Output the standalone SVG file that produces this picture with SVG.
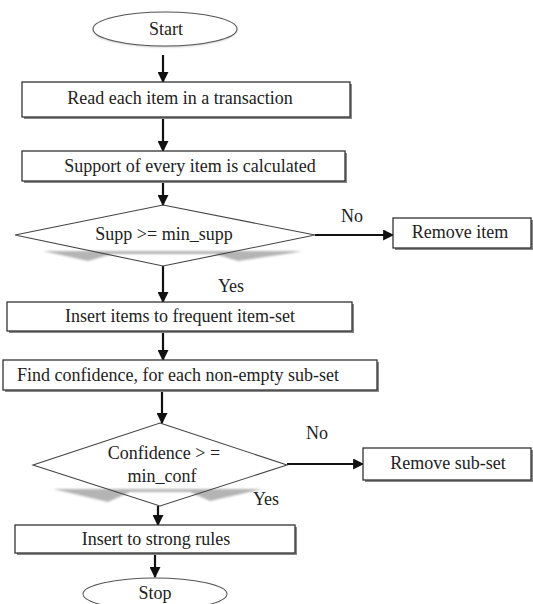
<svg xmlns="http://www.w3.org/2000/svg" width="533" height="604" viewBox="0 0 533 604">
<style>
  text { font-family: "Liberation Serif", "DejaVu Serif", "Times New Roman", serif; font-size: 18px; fill: #222; text-anchor: middle; }
  .box { fill: #fff; stroke: #333; stroke-width: 1.3; }
  .shadow { fill: #888; }
  .shape { fill: none; stroke: #444; stroke-width: 1.1; }
  .conn { stroke: #111; stroke-width: 2.2; fill: none; marker-end: url(#arr); }
  .haze { fill: #b4b4b4; filter: url(#blur); }
</style>
<defs>
  <marker id="arr" viewBox="0 0 10 10" refX="9" refY="5" markerWidth="5" markerHeight="5" orient="auto" markerUnits="strokeWidth">
    <path d="M0,0 L10,5 L0,10 z" fill="#111"/>
  </marker>
  <filter id="blur" x="-10%" y="-50%" width="120%" height="200%">
    <feGaussianBlur stdDeviation="0.9"/>
  </filter>
</defs>
<rect width="533" height="604" fill="#fff"/>

<g id="connectors">
  <line class="conn" x1="163" y1="55" x2="163" y2="82"/>
  <line class="conn" x1="163" y1="117" x2="163" y2="151"/>
  <line class="conn" x1="163" y1="181" x2="163" y2="205"/>
  <line class="conn" x1="315" y1="235" x2="393" y2="235"/>
  <line class="conn" x1="163" y1="266" x2="163" y2="302"/>
  <line class="conn" x1="163" y1="331" x2="163" y2="360"/>
  <line class="conn" x1="162" y1="390" x2="162" y2="423"/>
  <line class="conn" x1="287" y1="464" x2="363" y2="464"/>
  <line class="conn" x1="158" y1="506" x2="158" y2="525"/>
  <line class="conn" x1="155" y1="553" x2="155" y2="577"/>
  <text x="352" y="222">No</text>
  <text x="231" y="292">Yes</text>
  <text x="317" y="439">No</text>
  <text x="266" y="505">Yes</text>
</g>

<g id="start">
  <ellipse cx="165" cy="30" rx="72" ry="17" fill="#bbb" filter="url(#blur)"/>
  <ellipse cx="165" cy="29" rx="72" ry="17" fill="#fff" stroke="#555" stroke-width="1.1"/>
  <text x="166" y="35">Start</text>
</g>

<g id="read">
  <rect class="shadow" x="24" y="84" width="328" height="35"/>
  <rect class="box" x="22" y="82" width="328" height="35"/>
  <text x="180" y="104">Read each item in a transaction</text>
</g>

<g id="support">
  <rect class="shadow" x="24" y="153" width="323" height="30"/>
  <rect class="box" x="22" y="151" width="323" height="30"/>
  <text x="190" y="172">Support of every item is calculated</text>
</g>

<g id="supp-decision">
  <polygon class="haze" points="43,251 302,251 292,253 238,261 215,254 112,254 88,261 52,253"/>
  <polygon class="shape" points="163,205 315,235 163,266 15,235"/>
  <text x="164" y="240">Supp &gt;= min_supp</text>
</g>

<g id="remove-item">
  <rect class="shadow" x="395" y="220" width="138" height="30"/>
  <rect class="box" x="393" y="218" width="138" height="30"/>
  <text x="460" y="238">Remove item</text>
</g>

<g id="insert-items">
  <rect class="shadow" x="9" y="304" width="345" height="29"/>
  <rect class="box" x="7" y="302" width="345" height="29"/>
  <text x="180" y="322">Insert items to frequent item-set</text>
</g>

<g id="find-confidence">
  <rect class="shadow" x="5" y="362" width="374" height="30"/>
  <rect class="box" x="3" y="360" width="374" height="30"/>
  <text x="178" y="381">Find confidence, for each non-empty sub-set</text>
</g>

<g id="conf-decision">
  <polygon class="haze" points="53,489 262,489 254,491 210,501 190,492 130,492 108,502 62,491"/>
  <polygon class="shape" points="160,423 287,465 160,506 33,465"/>
  <text x="164" y="459">Confidence &gt; =</text>
  <text x="162" y="482">min_conf</text>
</g>

<g id="remove-subset">
  <rect class="shadow" x="365" y="450" width="168" height="32"/>
  <rect class="box" x="363" y="448" width="168" height="32"/>
  <text x="448" y="469">Remove sub-set</text>
</g>

<g id="strong-rules">
  <rect class="shadow" x="17" y="527" width="280" height="28"/>
  <rect class="box" x="15" y="525" width="280" height="28"/>
  <text x="156" y="545">Insert to strong rules</text>
</g>

<g id="stop">
  <ellipse cx="155" cy="594" rx="72" ry="16" fill="#fff" stroke="#555" stroke-width="1.1"/>
  <text x="155" y="599">Stop</text>
</g>
</svg>
